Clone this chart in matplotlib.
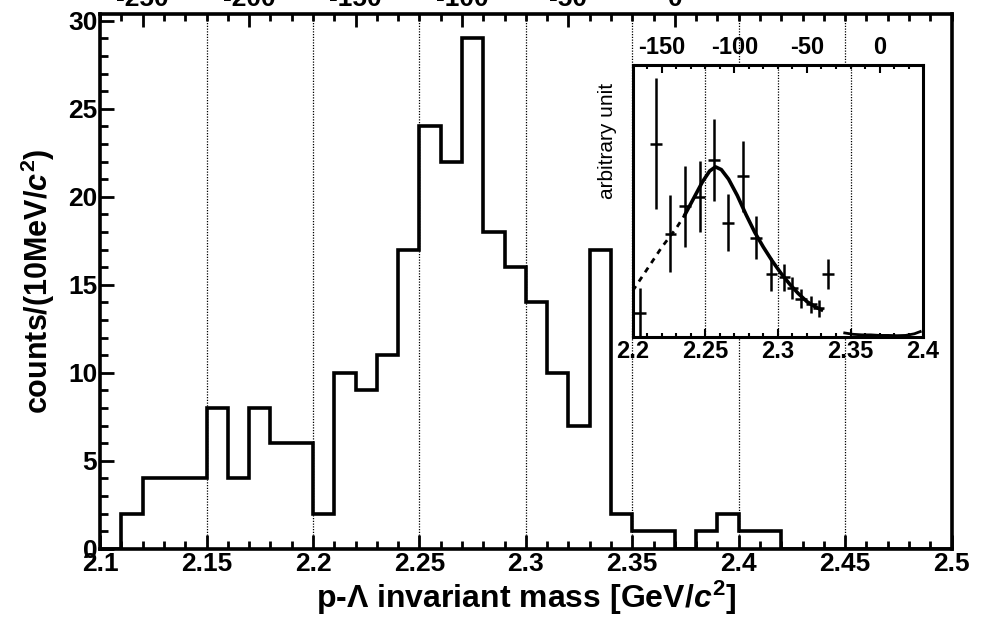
import numpy as np
import matplotlib
matplotlib.use('Agg')
import matplotlib.pyplot as plt
from matplotlib.ticker import MultipleLocator

plt.rcParams['font.family'] = ['Liberation Sans', 'DejaVu Sans']
plt.rcParams['font.weight'] = 'bold'
plt.rcParams['axes.labelweight'] = 'bold'
plt.rcParams['axes.unicode_minus'] = False
plt.rcParams['mathtext.fontset'] = 'custom'
plt.rcParams['mathtext.rm'] = 'Liberation Sans:bold'
plt.rcParams['mathtext.it'] = 'Liberation Sans:italic:bold'

# main histogram: p-Lambda invariant mass, 10 MeV bins from 2.10 to 2.50
bin_edges = np.linspace(2.10, 2.50, 41)
counts = [0, 2, 4, 4, 4, 8, 4, 8, 6, 6,
          2, 10, 9, 11, 17, 24, 22, 29, 18, 16,
          14, 10, 7, 17, 2, 1, 1, 0, 1, 2,
          1, 1, 0, 0, 0, 0, 0, 0, 0, 0]

# inset: data points with errors
pt_x = [2.205, 2.216, 2.226, 2.236, 2.246, 2.256, 2.2655, 2.276, 2.285,
        2.2955, 2.3045, 2.310, 2.316, 2.323, 2.328, 2.3345]
pt_y = [0.09, 0.71, 0.38, 0.48, 0.515, 0.65, 0.42, 0.59, 0.365,
        0.23, 0.22, 0.18, 0.14, 0.12, 0.105, 0.23]
pt_err = [0.09, 0.24, 0.14, 0.15, 0.13, 0.15, 0.105, 0.13, 0.08,
          0.06, 0.05, 0.04, 0.035, 0.03, 0.03, 0.055]
tail_x = [2.346, 2.352, 2.358, 2.364, 2.370, 2.376, 2.382, 2.388, 2.394, 2.398]
tail_y = [0.015, 0.01, 0.008, 0.008, 0.006, 0.006, 0.005, 0.006, 0.012, 0.02]

# fit curve
fit_dash_x = [2.200, 2.210, 2.220, 2.230, 2.236]
fit_dash_y = [0.17, 0.25, 0.33, 0.40, 0.45]
fit_x = [2.236, 2.242, 2.248, 2.253, 2.257, 2.261, 2.266, 2.272, 2.278,
         2.284, 2.290, 2.296, 2.302, 2.308, 2.314, 2.320, 2.326, 2.330]
fit_y = [0.45, 0.51, 0.57, 0.61, 0.625, 0.615, 0.58, 0.52, 0.45,
         0.385, 0.33, 0.28, 0.235, 0.195, 0.16, 0.13, 0.11, 0.10]

threshold = 2.370  # K- p p threshold, GeV

fig = plt.figure(figsize=(9.81, 6.23), dpi=100)
ax = fig.add_axes([0.102, 0.119, 0.868, 0.859])

ax.stairs(counts, bin_edges, color='black', lw=2.6, baseline=0)
ax.set_xlim(2.1, 2.5)
ax.set_ylim(0, 30.4)

for gx in [2.15, 2.2, 2.25, 2.3, 2.35, 2.4, 2.45]:
    ax.axvline(gx, color='black', lw=0.9, ls=(0, (1, 1.2)), zorder=0)

ax.set_xticks([2.1, 2.15, 2.2, 2.25, 2.3, 2.35, 2.4, 2.45, 2.5])
ax.set_xticklabels(['2.1', '2.15', '2.2', '2.25', '2.3', '2.35', '2.4', '2.45', '2.5'])
ax.xaxis.set_minor_locator(MultipleLocator(0.01))
ax.yaxis.set_major_locator(MultipleLocator(5))
ax.yaxis.set_minor_locator(MultipleLocator(1))
ax.tick_params(which='both', direction='in', width=2, labelsize=19,
               top=False, right=False)
ax.tick_params(which='major', length=10, pad=2)
ax.tick_params(which='minor', length=6)
for s in ax.spines.values():
    s.set_linewidth(2.6)

ax.set_xlabel(r'p-$\Lambda$ invariant mass [GeV/$c^2$]', fontsize=23, labelpad=2)
ax.set_ylabel(r'counts/(10MeV/$c^2$)', fontsize=22, labelpad=8)

sec = ax.secondary_xaxis('top', functions=(lambda m: (m - threshold) * 1000,
                                           lambda b: b / 1000 + threshold))
sec.set_xticks([-250, -200, -150, -100, -50, 0])
sec.xaxis.set_minor_locator(MultipleLocator(10))
sec.tick_params(which='both', direction='in', width=2, labelsize=19, pad=2)
sec.tick_params(which='major', length=9)
sec.tick_params(which='minor', length=5)

# inset
ins = fig.add_axes([0.645, 0.459, 0.296, 0.437])
ins.set_xlim(2.2, 2.4)
ins.set_ylim(0, 1)
for gx in [2.25, 2.3, 2.35]:
    ins.axvline(gx, color='black', lw=0.9, ls=(0, (1, 1.2)), zorder=0)
ins.plot(fit_dash_x, fit_dash_y, color='black', lw=2, ls=(0, (2, 2)))
ins.plot(fit_x, fit_y, color='black', lw=2.6)
ins.errorbar(pt_x, pt_y, yerr=pt_err, xerr=0.004, fmt='none',
             ecolor='black', elinewidth=1.8, capsize=0)
ins.plot(tail_x, tail_y, color='black', lw=2)
ins.set_xticks([2.2, 2.25, 2.3, 2.35, 2.4])
ins.set_xticklabels(['2.2', '2.25', '2.3', '2.35', '2.4'])
ins.xaxis.set_minor_locator(MultipleLocator(0.01))
ins.set_yticks([])
ins.tick_params(which='both', direction='in', width=1.5, labelsize=17, pad=2,
                top=False)
ins.tick_params(which='major', length=6)
ins.tick_params(which='minor', length=3)
for s in ins.spines.values():
    s.set_linewidth(2.2)
ins.set_ylabel('arbitrary unit', fontsize=15, fontweight='normal')
ins.yaxis.set_label_coords(-0.055, 0.72)

isec = ins.secondary_xaxis('top', functions=(lambda m: (m - threshold) * 1000,
                                             lambda b: b / 1000 + threshold))
isec.set_xticks([-150, -100, -50, 0])
isec.xaxis.set_minor_locator(MultipleLocator(10))
isec.tick_params(which='both', direction='in', width=1.5, labelsize=17, pad=4)
isec.tick_params(which='major', length=6)
isec.tick_params(which='minor', length=3)

fig.savefig('out.png', dpi=100)
